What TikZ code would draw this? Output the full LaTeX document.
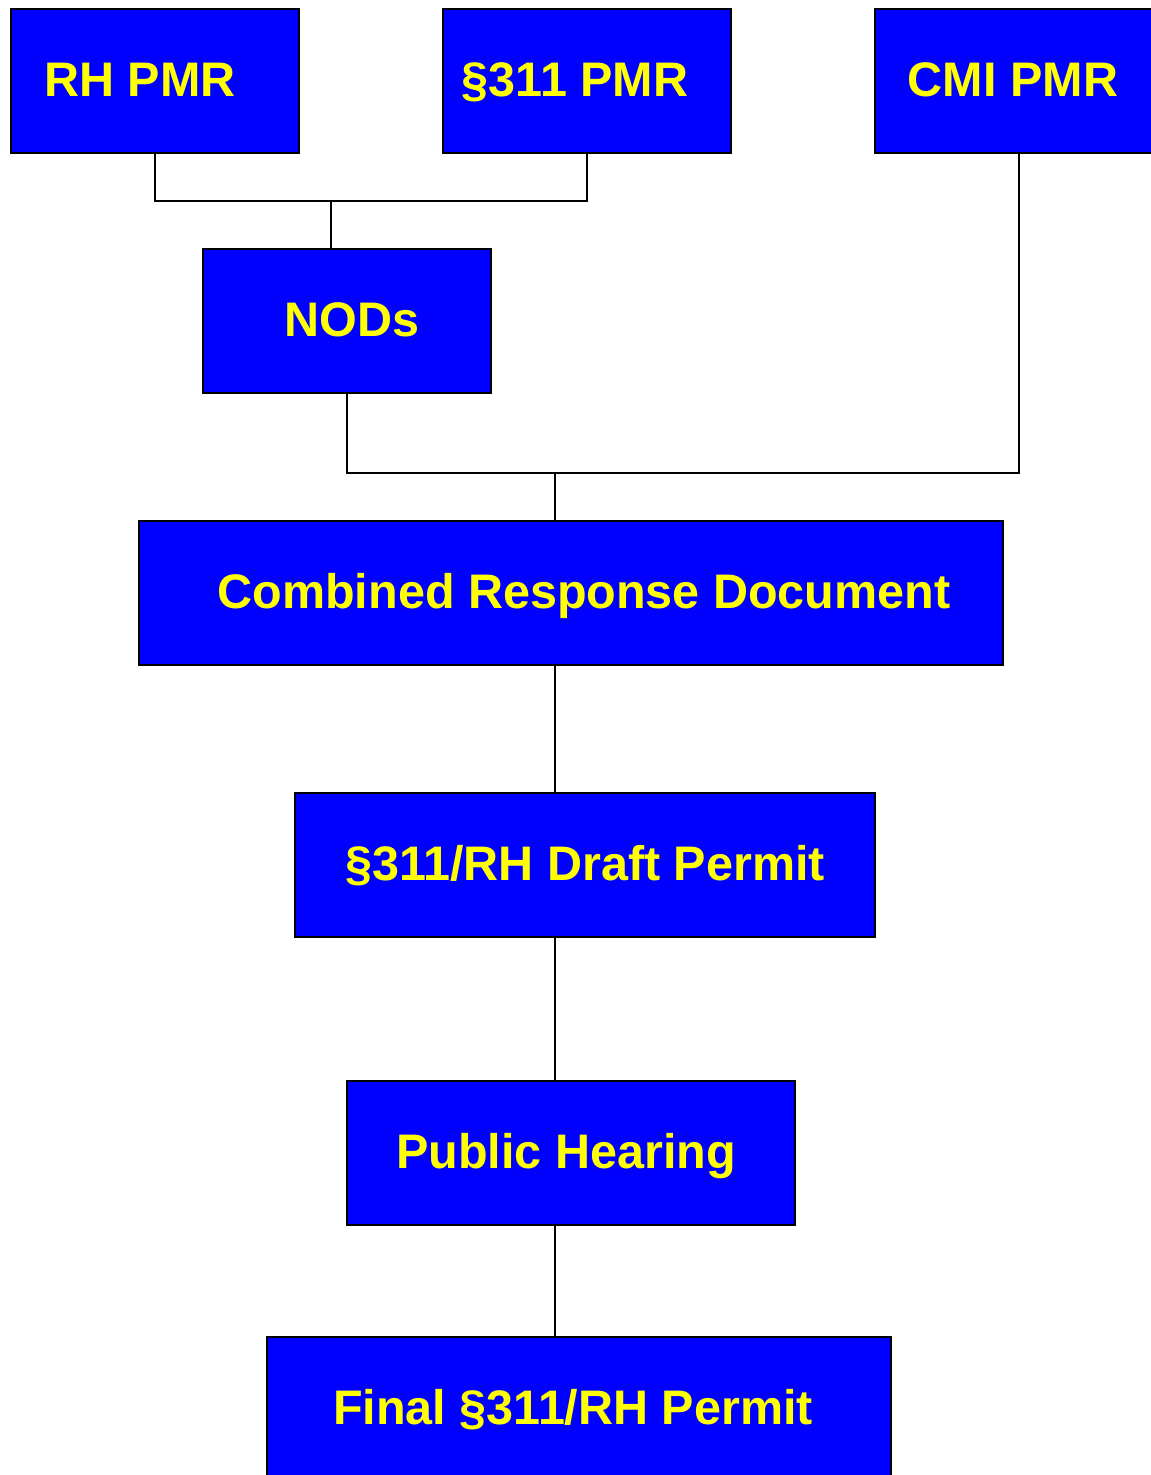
\documentclass[tikz,border=0pt]{standalone}
\usepackage{fontspec}
\setmainfont{Liberation Sans}
\usepackage{tikz}
\usetikzlibrary{positioning,calc}

\definecolor{boxblue}{HTML}{0000FF}
\definecolor{boxyellow}{HTML}{FFFF00}

\tikzset{
    stagebox/.style={draw=black, line width=2pt, fill=boxblue, text=boxyellow,
        font=\fontsize{48.5}{56}\selectfont\bfseries, inner sep=0pt,
        text height=34pt, text depth=4pt,
        minimum height=144, minimum width=288},
    link/.style={draw=black, line width=2pt}
}

\begin{document}
\begin{tikzpicture}[x=1pt, y=-1pt]
    \useasboundingbox (0,0) rectangle (1151,1475);

    % top row
    \node[stagebox] (rh) at (155,81) {\hspace*{-30pt}RH PMR};
    \node[stagebox] (sec) at (587,81) {\hspace*{-24pt}\S311 PMR};
    \node[stagebox] (cmi) at (1019,81) {\hspace*{-12pt}CMI PMR};

    \node[stagebox] (nods) at (347,321) {\hspace*{10pt}NODs};

    % main chain
    \node[stagebox, minimum width=864] (crd) at (571,593) {\hspace*{26pt}Combined Response Document};
    \node[stagebox, minimum width=580] (draft) at (585,865) {\S311/RH Draft Permit};
    \node[stagebox, minimum width=448] (hear) at (571,1153) {\hspace*{-10pt}Public Hearing};
    \node[stagebox, minimum width=624] (final) at (579,1409) {\hspace*{-12pt}Final \S311/RH Permit};

    \coordinate (jtop) at (331,201);
    \coordinate (jmid) at (555,473);

    \draw[link] (rh.south) |- (jtop) -| (sec.south);
    \draw[link] (jtop) -- (jtop |- nods.north);
    \draw[link] (nods.south) |- (jmid) -| (cmi.south);
    \draw[link] (jmid) -- (jmid |- crd.north);
    \draw[link] (jmid |- crd.south) -- (jmid |- draft.north);
    \draw[link] (jmid |- draft.south) -- (jmid |- hear.north);
    \draw[link] (jmid |- hear.south) -- (jmid |- final.north);
\end{tikzpicture}
\end{document}
